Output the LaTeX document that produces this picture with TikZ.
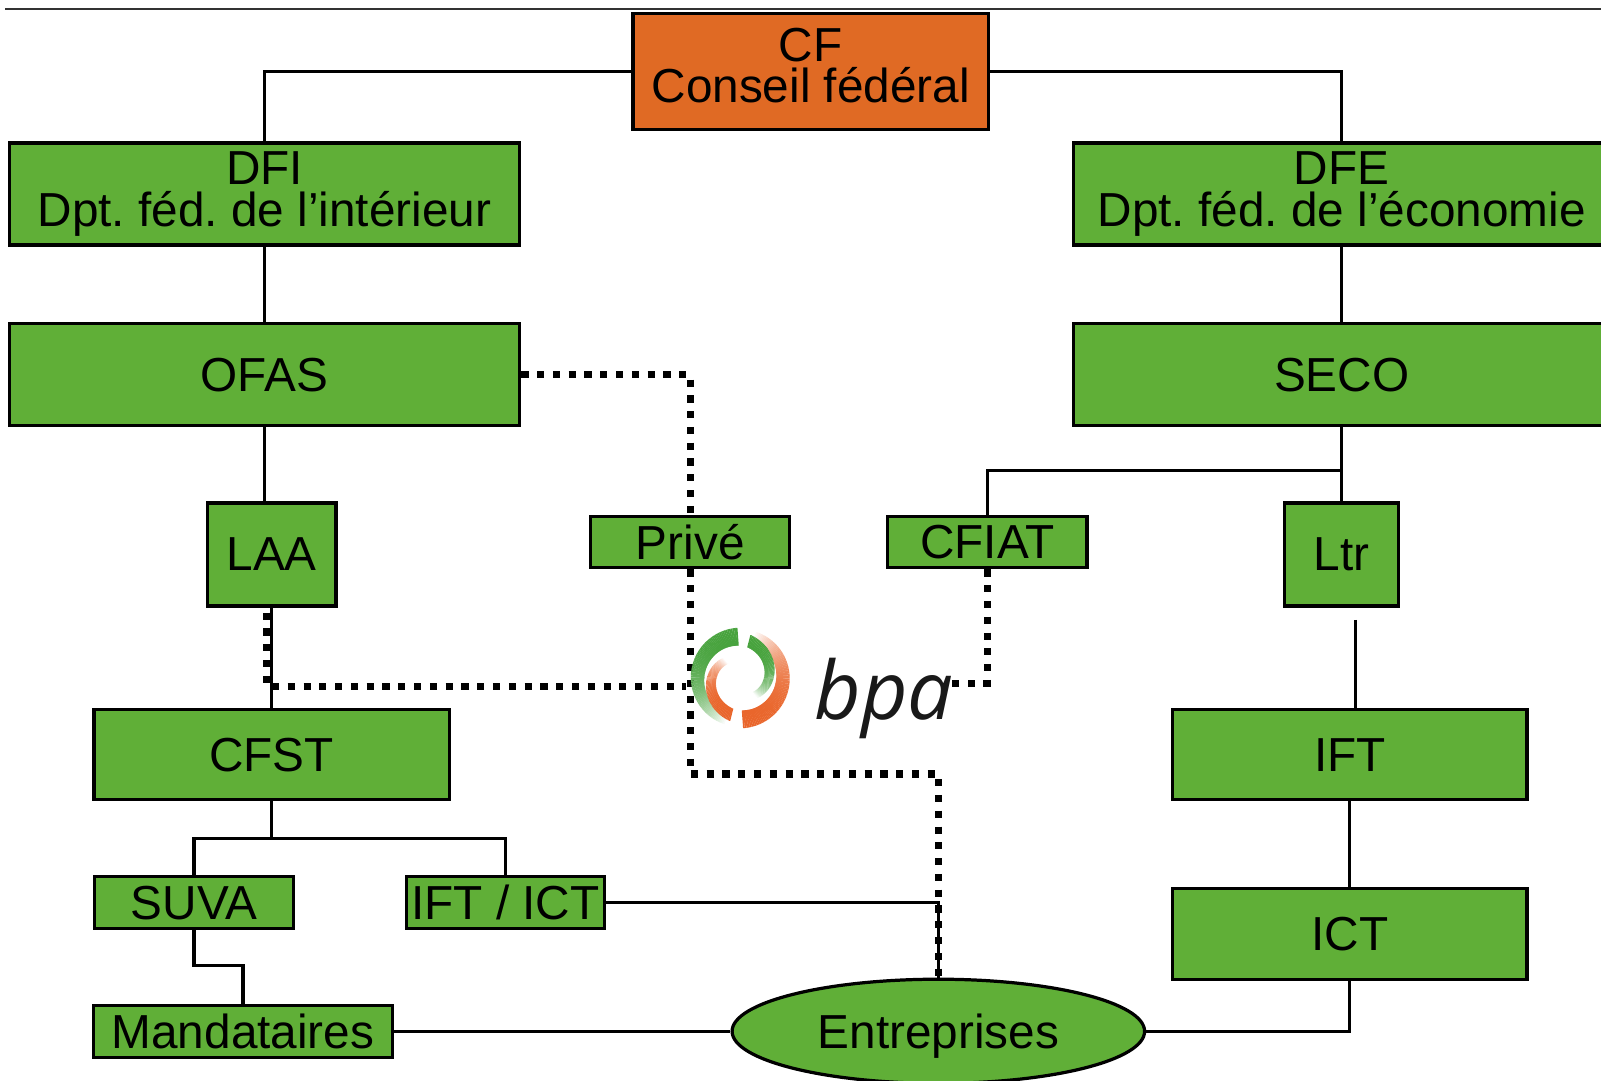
\documentclass[tikz,border=0pt]{standalone}
\usepackage{fontspec}
\setmainfont{Liberation Sans}
\newfontfamily\bpafont{Open Sans}
\usetikzlibrary{shapes.geometric}

\definecolor{boxgreen}{RGB}{96,175,55}
\definecolor{cforange}{RGB}{224,106,36}
\definecolor{logogreen}{RGB}{72,163,62}
\definecolor{logoorange}{RGB}{233,102,44}

\begin{document}
\frenchspacing
\begin{tikzpicture}[
    box/.style={draw=black, line width=0.9pt, fill=boxgreen, inner sep=0pt, align=center,
        font=\fontsize{13.3}{11.6}\selectfont},
    lien/.style={line width=0.85pt},
    pointille/.style={line width=2pt, dash pattern=on 2pt off 2.4pt}
]
    \useasboundingbox (0,0) rectangle (15.68,-10.58);
    \draw[line width=0.7pt, black!80] (0.05,-0.09) -- (15.68,-0.09);

    % Boites
    \node[box, fill=cforange, minimum width=3.48cm, minimum height=1.14cm, text depth=0.12cm] (CF) at (7.94,-0.70) {CF\\Conseil fédéral};
    \node[box, minimum width=5.00cm, minimum height=1.00cm] (DFI) at (2.59,-1.90) {DFI\\Dpt. féd. de l’intérieur};
    \node[box, minimum width=5.26cm, minimum height=1.00cm] (DFE) at (13.14,-1.90) {DFE\\Dpt. féd. de l’économie};
    \node[box, minimum width=5.00cm, minimum height=1.00cm] (OFAS) at (2.59,-3.67) {OFAS};
    \node[box, minimum width=5.26cm, minimum height=1.00cm] (SECO) at (13.14,-3.67) {SECO};
    \node[box, minimum width=1.26cm, minimum height=1.01cm] (LAA) at (2.66,-5.43) {LAA};
    \node[box, minimum width=1.95cm, minimum height=0.50cm] (Prive) at (6.76,-5.31) {Privé};
    \node[box, minimum width=1.95cm, minimum height=0.50cm] (CFIAT) at (9.67,-5.31) {CFIAT};
    \node[box, minimum width=1.12cm, minimum height=1.01cm] (Ltr) at (13.14,-5.43) {Ltr};
    \node[box, minimum width=3.48cm, minimum height=0.88cm] (CFST) at (2.66,-7.39) {CFST};
    \node[box, minimum width=3.47cm, minimum height=0.88cm] (IFT) at (13.22,-7.39) {IFT};
    \node[box, minimum width=1.95cm, minimum height=0.51cm] (SUVA) at (1.90,-8.84) {SUVA};
    \node[box, minimum width=1.94cm, minimum height=0.51cm] (IFTICT) at (4.95,-8.84) {IFT / ICT};
    \node[box, minimum width=3.47cm, minimum height=0.89cm] (ICT) at (13.22,-9.15) {ICT};
    \node[box, minimum width=2.93cm, minimum height=0.51cm] (Mand) at (2.38,-10.10) {Mandataires};
    \node[box, ellipse, minimum width=4.04cm, minimum height=1.02cm, text depth=0pt] (Entr) at (9.19,-10.10) {Entreprises};

    % Liaisons
    \coordinate (cfstfork) at (2.66,-8.21);
    \coordinate (suvafork) at (1.90,-9.46);
    \coordinate (secofork) at (13.14,-4.61);
    \coordinate (ltrfin) at (13.28,-6.07);
    \draw[lien] (CF.west) -| (DFI.north);
    \draw[lien] (CF.east) -| (DFE.north);
    \draw[lien] (DFI.south) -- (OFAS.north);
    \draw[lien] (DFE.south) -- (SECO.north);
    \draw[lien] (OFAS.south) -- (OFAS.south |- LAA.north);
    \draw[lien] (LAA.south) -- (CFST.north);
    \draw[lien] (CFST.south) -- (cfstfork);
    \draw[lien] (SUVA.north) |- (cfstfork) -| (IFTICT.north);
    \draw[lien] (SUVA.south) -- (suvafork) -| (Mand.north);
    \draw[lien] (Mand.east) -- (Entr.west);
    \draw[lien] (IFTICT.east) -| (Entr.north);
    \draw[lien] (SECO.south) -- (Ltr.north);
    \draw[lien] (secofork) -| (CFIAT.north);
    \draw[lien] (ltrfin) -- (ltrfin |- IFT.north);
    \draw[lien] (IFT.south) -- (ICT.north);
    \draw[lien] (ICT.south) |- (Entr.east);

    % Pointilles vers bpa
    \coordinate (laadep) at (2.61,-6.00);
    \coordinate (privecoin) at (6.76,-7.58);
    \coordinate (bpagauche) at (6.72,-6.72);
    \coordinate (bpadroite) at (9.29,-6.69);
    \draw[pointille] (OFAS.east) -| (Prive.north);
    \draw[pointille] (Prive.south) -- (privecoin) -| (Entr.north);
    \draw[pointille] (laadep) |- (bpagauche);
    \draw[pointille] (CFIAT.south) |- (bpadroite);

    % Logo bpa
    \coordinate (logo) at (7.25,-6.64);
    \foreach \a in {93,95,...,251} {
        \pgfmathsetmacro\t{(\a-93)/158}
        \pgfmathsetmacro\r{0.405+0.025*\t}
        \pgfmathsetmacro\w{0.175-0.08*\t}
        \pgfmathsetmacro\p{100*(1-\t*\t*\t)}
        \draw[line width=\w cm, logogreen!\p!white] ([shift={(\a:\r)}]logo) arc[start angle=\a, delta angle=2.4, radius=\r cm];
        \draw[line width=\w cm, logoorange!\p!white] ([shift={(\a+180:\r)}]logo) arc[start angle=\a+180, delta angle=2.4, radius=\r cm];
    }
    \foreach \a in {77,75,...,-49} {
        \pgfmathsetmacro\t{(77-\a)/126}
        \pgfmathsetmacro\r{0.37-0.15*\t}
        \pgfmathsetmacro\w{0.125-0.05*\t}
        \pgfmathsetmacro\p{100*(1-\t*\t*\t)}
        \draw[line width=\w cm, logogreen!\p!white] ([shift={(\a:\r)}]logo) arc[start angle=\a, delta angle=-2.4, radius=\r cm];
        \draw[line width=\w cm, logoorange!\p!white] ([shift={(\a+180:\r)}]logo) arc[start angle=\a+180, delta angle=-2.4, radius=\r cm];
    }
    \node[anchor=base west, inner sep=0pt, text=black!90, font=\bpafont\itshape\fontsize{22.5}{22}\selectfont] (bpatexte) at (7.97,-7.05) {bpa};
\end{tikzpicture}
\end{document}
